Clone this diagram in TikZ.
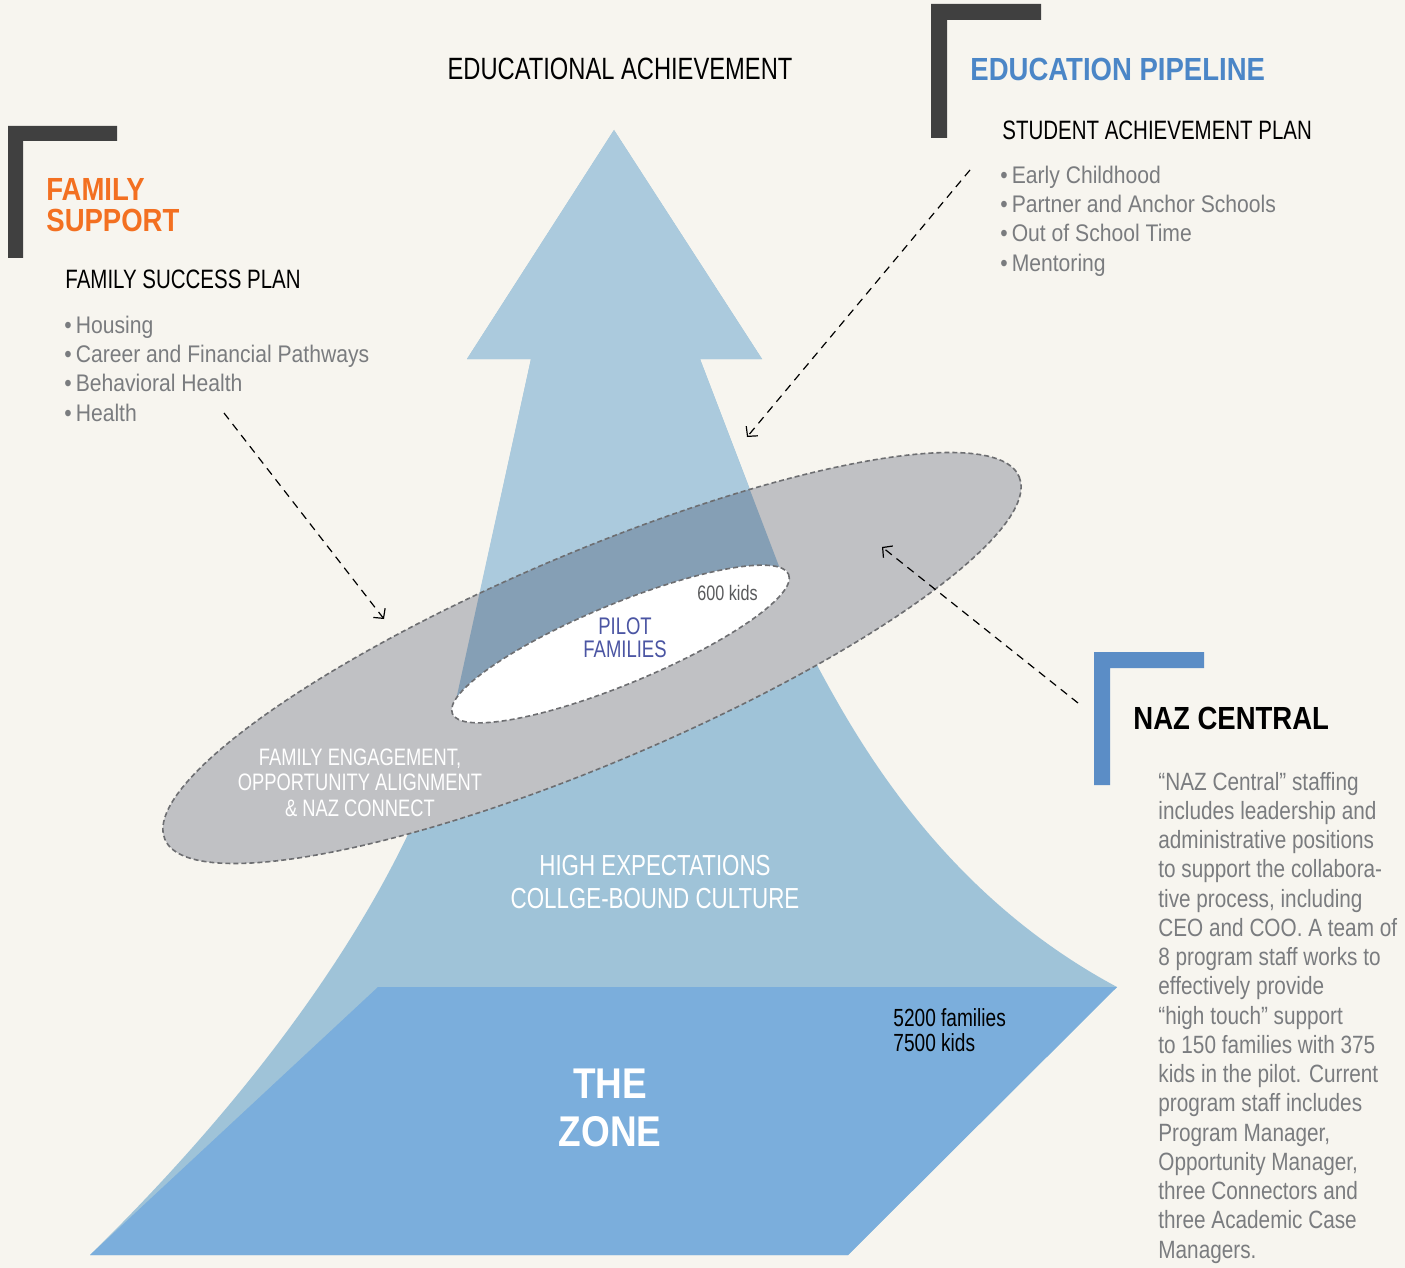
\documentclass[tikz,border=0pt]{standalone}
\usepackage{fontspec}
\setmainfont{Liberation Sans}
\newfontfamily\condfont{Liberation Sans}[FakeStretch=0.77]
\newfontfamily\listfont{Liberation Sans}[FakeStretch=0.88]
\newfontfamily\bodyfont{Liberation Sans}[FakeStretch=0.83]
\newfontfamily\headfont{Liberation Sans}[FakeStretch=0.86]
\usetikzlibrary{arrows.meta}

\definecolor{paper}{HTML}{F7F5EF}
\definecolor{arrowblue}{HTML}{ABCADD}
\definecolor{flareblue}{HTML}{9FC3D8}
\definecolor{zoneblue}{HTML}{7BAEDC}
\definecolor{ringgray}{HTML}{C0C1C4}
\definecolor{overlapblue}{HTML}{859FB5}
\definecolor{edgegray}{HTML}{6D6E71}
\definecolor{bracketgray}{HTML}{404040}
\definecolor{nazblue}{HTML}{5B8DC6}
\definecolor{famorange}{HTML}{F37021}
\definecolor{pipeblue}{HTML}{4B86C7}
\definecolor{itemgray}{HTML}{7A7C7F}
\definecolor{pilotblue}{HTML}{4B55A3}
\definecolor{kidsgray}{HTML}{595A5C}

% multi-line nodes sit on the baseline of their last line
\tikzset{
  pointer/.style={line width=0.6pt, dash pattern=on 4pt off 3pt, -{Straight Barb[length=3.5pt,width=7.5pt]}},
  ringborder/.style={draw=edgegray, line width=0.8pt, dash pattern=on 2.5pt off 1.5pt},
  heading/.style={inner sep=0pt, anchor=base west, align=left, font=\headfont\bfseries\fontsize{16}{15.5}\selectfont},
  plantext/.style={inner sep=0pt, anchor=base west, font=\condfont\fontsize{13.3}{16}\selectfont},
  itemlist/.style={inner sep=0pt, anchor=base west, align=left, text=itemgray, font=\listfont\fontsize{12}{14.65}\selectfont},
  bodytext/.style={inner sep=0pt, anchor=base west, align=left, text=itemgray, font=\bodyfont\fontsize{12.5}{14.625}\selectfont},
  whitetext/.style={inner sep=0pt, anchor=base, align=center, text=white},
}

\begin{document}
\begin{tikzpicture}[x=0.5pt,y=-0.5pt]

\useasboundingbox (0,0) rectangle (1405,1268);
\fill[paper] (0,0) rectangle (1405,1268);

\coordinate (tip) at (614,130);
\coordinate (headL) at (467,359);
\coordinate (headR) at (762,359);
\coordinate (neckL) at (531,359);
\coordinate (neckR) at (700,359);
\coordinate (waistL) at (461,680);
\coordinate (waistR) at (818,667);
\coordinate (flareR) at (1117,987);
\coordinate (zoneTL) at (378,987);
\coordinate (baseR) at (848,1255);
\coordinate (baseL) at (90,1255);

% arrow with flared foot
\fill[flareblue] (tip) -- (headR) -- (neckR) -- (waistR) .. controls (860,745) and (945,895) .. (flareR)
  -- (baseR) -- (baseL) .. controls (340,1010) and (440,800) .. (waistL) -- (neckL) -- (headL) -- cycle;
\begin{scope}
\clip (0,0) -- (1405,0) -- (1405,319) -- (0,901) -- cycle;
\fill[arrowblue] (tip) -- (headR) -- (neckR) -- (830,700) -- (445,750) -- (neckL) -- (headL) -- cycle;
\end{scope}

% ring
\fill[ringgray, rotate around={23:(592,658)}] (592,658) ellipse [x radius=464, y radius=105];
\begin{scope}
\clip[rotate around={23:(592,658)}] (592,658) ellipse [x radius=464, y radius=105];
\clip (0,0) -- (1405,0) -- (1405,319) -- (0,901) -- cycle;
\fill[overlapblue] (tip) -- (headR) -- (neckR) -- (830,700) -- (445,750) -- (neckL) -- (headL) -- cycle;
\end{scope}
\path[ringborder, rotate around={23:(592,658)}] (592,658) ellipse [x radius=464, y radius=105];
\path[ringborder, fill=white, rotate around={22.5:(620.5,644)}] (620.5,644) ellipse [x radius=182, y radius=40];

% the zone
\fill[zoneblue] (zoneTL) -- (flareR) -- (baseR) -- (baseL) -- cycle;

% brackets
\fill[bracketgray] (8,126) -- (117,126) -- (117,141) -- (23,141) -- (23,258) -- (8,258) -- cycle;
\fill[bracketgray] (931,4) -- (1041,4) -- (1041,20) -- (947,20) -- (947,138) -- (931,138) -- cycle;
\fill[nazblue] (1094,652) -- (1204,652) -- (1204,668) -- (1110,668) -- (1110,785) -- (1094,785) -- cycle;

% texts
\node[inner sep=0pt, anchor=base, font=\condfont\fontsize{15.4}{18}\selectfont] (achieve) at (620,80) {EDUCATIONAL ACHIEVEMENT};

\node[heading, text=famorange] (famhead) at (46,232) {FAMILY\\SUPPORT};
\node[plantext] (famplan) at (65,288) {FAMILY SUCCESS PLAN};
\node[itemlist] (famitems) at (64,421) {\textbullet\,Housing\\\textbullet\,Career and Financial Pathways\\\textbullet\,Behavioral Health\\\textbullet\,Health};

\node[heading, text=pipeblue] (pipehead) at (970,81) {EDUCATION PIPELINE};
\node[plantext] (pipeplan) at (1002,140) {STUDENT ACHIEVEMENT PLAN};
\node[itemlist] (pipeitems) at (1000,271) {\textbullet\,Early Childhood\\\textbullet\,Partner and Anchor Schools\\\textbullet\,Out of School Time\\\textbullet\,Mentoring};

\node[heading] (nazhead) at (1133,729) {NAZ CENTRAL};
\node[bodytext] (nazbody) at (1158,1258) {“NAZ Central” staffing\\includes leadership and\\administrative positions\\to support the collabora-\\tive process, including\\CEO and COO. A team of\\8 program staff works to\\effectively provide\\“high touch” support\\to 150 families with 375\\kids in the pilot. Current\\program staff includes\\Program Manager,\\Opportunity Manager,\\three Connectors and\\three Academic Case\\Managers.};

\node[whitetext, font=\condfont\fontsize{11.9}{12.75}\selectfont] (ringlabel) at (360,816) {FAMILY ENGAGEMENT,\\OPPORTUNITY ALIGNMENT\\\& NAZ CONNECT};
\node[whitetext, font=\condfont\fontsize{14.5}{16.5}\selectfont] (culture) at (655,908) {HIGH EXPECTATIONS\\COLLGE-BOUND CULTURE};
\node[inner sep=0pt, anchor=base, align=center, text=pilotblue, font=\condfont\fontsize{12}{11.5}\selectfont] (pilot) at (625,657) {PILOT\\FAMILIES};
\node[inner sep=0pt, anchor=base west, text=kidsgray, font=\condfont\fontsize{10.5}{12}\selectfont] (pilotkids) at (697,600) {600 kids};
\node[inner sep=0pt, anchor=base west, align=left, font=\condfont\fontsize{12.4}{12.5}\selectfont] (zonecount) at (893,1051) {5200 families\\7500 kids};
\node[whitetext, font=\headfont\bfseries\fontsize{21.5}{24}\selectfont] (zonename) at (610,1146) {THE\\ZONE};

% pointers
\coordinate (fsFrom) at (224,413);
\coordinate (fsTo) at (384,619);
\coordinate (epFrom) at (970,170);
\coordinate (epTo) at (747,437);
\coordinate (ncFrom) at (1078,703);
\coordinate (ncTo) at (882,547);
\draw[pointer] (fsFrom) -- (fsTo);
\draw[pointer] (epFrom) -- (epTo);
\draw[pointer] (ncFrom) -- (ncTo);

\end{tikzpicture}
\end{document}
